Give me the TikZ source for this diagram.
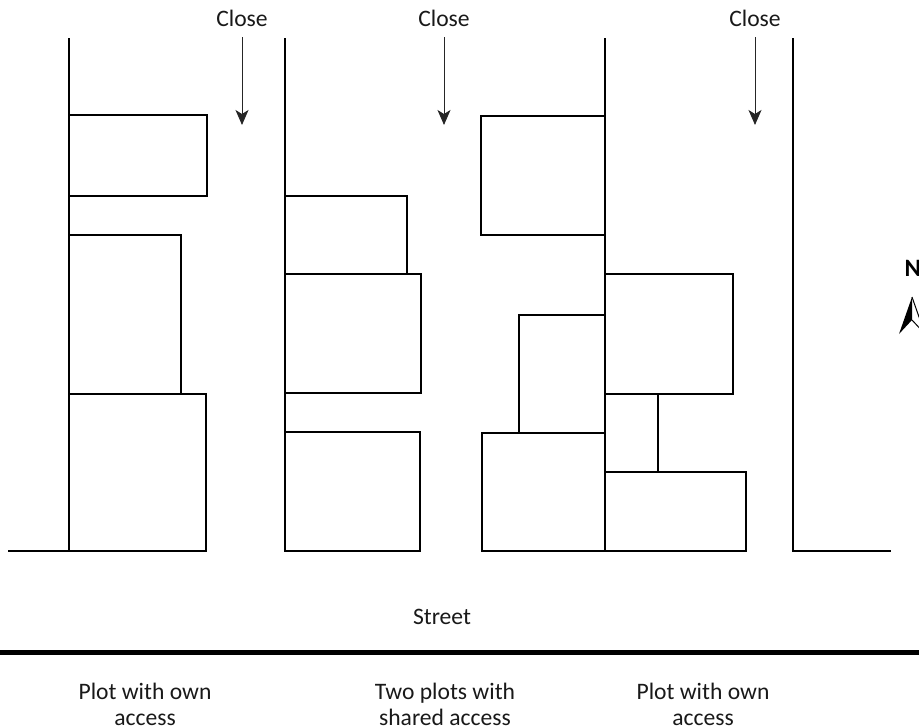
\documentclass[tikz,border=0pt]{standalone}
\usepackage{fontspec}
\setmainfont{Carlito}
\usetikzlibrary{arrows.meta}

\tikzset{
	plot/.style={draw=black,line width=1.6pt,line join=miter},
	lbl/.style={font=\fontsize{23.6}{25.5}\selectfont,align=center,text=black!90,inner sep=0pt},
	closearrow/.style={draw=black!85,line width=1pt,-{Stealth[length=15pt,width=13pt,inset=4pt]}}
}

\begin{document}
\begin{tikzpicture}[x=1pt,y=-1pt]
	\useasboundingbox (0,0) rectangle (919,728);
	\clip (0,0) rectangle (919,728);

	% plots west of the first close
	\draw [plot] (69,38) -- (69,551);
	\draw [plot] (8,551) -- (206,551) -- (206,394) -- (69,394);
	\draw [plot] (69,394) -- (181,394) -- (181,235) -- (69,235);
	\draw [plot] (69,115) -- (207,115) -- (207,196) -- (69,196);

	% plots east of the first close
	\draw [plot] (285,38) -- (285,551) -- (420,551) -- (420,432) -- (285,432);
	\draw [plot] (285,393) -- (421,393) -- (421,274) -- (285,274);
	\draw [plot] (407,274) -- (407,196) -- (285,196);

	% plots either side of the spine
	\draw [plot] (605,38) -- (605,551);
	\draw [plot] (605,116) -- (481,116) -- (481,235) -- (605,235);
	\draw [plot] (605,315) -- (519,315) -- (519,433);
	\draw [plot] (605,433) -- (482,433) -- (482,551) -- (746,551) -- (746,472) -- (605,472);
	\draw [plot] (605,274) -- (733,274) -- (733,394) -- (605,394);
	\draw [plot] (658,394) -- (658,472);

	% last frontage
	\draw [plot] (793,38) -- (793,551) -- (891,551);

	% street
	\draw [black,line width=5pt] (0,652) -- (919,652);

	% close arrows
	\foreach \X/\Name in {242/a,444/b,755/c} {
		\node [lbl] (close\Name) at (\X,18) {Close};
		\coordinate (tip\Name) at (\X,125);
		\draw [closearrow] (\X,37) -- (tip\Name);
	}

	\node [lbl] (street) at (442,617) {Street};
	\node [lbl] (own1) at (145,704.5) {Plot with own\\access};
	\node [lbl] (shared) at (445,704.5) {Two plots with\\shared access};
	\node [lbl] (own2) at (703,704.5) {Plot with own\\access};

	% north point
	\node [lbl,font=\fontsize{25}{28}\selectfont\bfseries,anchor=west,text=black] (north) at (904.5,268) {N};
	\fill [black] (912,297) -- (899,334) -- (912,320) -- cycle;
	\draw [black,line width=1pt,line join=miter] (912,297) -- (925,334) -- (912,320);
\end{tikzpicture}
\end{document}
